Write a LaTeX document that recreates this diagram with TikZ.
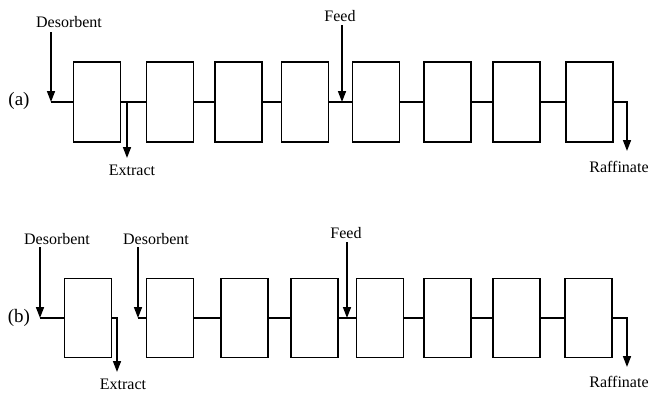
\documentclass[tikz,border=0pt]{standalone}
\usepackage{fontspec}
\setmainfont{Liberation Serif}
\usetikzlibrary{arrows.meta}
\begin{document}
\begin{tikzpicture}[x=1pt,y=-1pt,
  column/.style={draw,line width=1.5pt,minimum width=47pt,minimum height=80pt,inner sep=0pt},
  pipe/.style={line width=1.6pt},
  flow/.style={line width=1.6pt,-{Triangle[width=8pt,length=11pt]}},
  lbl/.style={inner sep=0pt,font=\fontsize{16}{18}\selectfont},
  tag/.style={inner sep=0pt,font=\fontsize{19}{22}\selectfont}]
\useasboundingbox (0,0) rectangle (651,392);

% ---------------- (a) eight columns in series ----------------
\foreach \i/\x in {1/97,2/170,3/238.5,4/305,5/376,6/447.5,7/516.5,8/589.5}
  \node[column] (a\i) at (\x,102) {};
\foreach \i/\j in {1/2,2/3,3/4,4/5,5/6,6/7,7/8}
  \draw[pipe] (a\i.east) -- (a\j.west);

\node[tag] (tagA) at (19,101) {(a)};

\node[lbl] (desA) at (69,22) {Desorbent};
\coordinate (desAin) at (51,32);
\coordinate (desAj) at (51,102);
\draw[flow] (desAin) -- (desAj);
\draw[pipe] (desAj) -- (a1.west);

\node[lbl] (extA) at (132,170) {Extract};
\coordinate (extAj) at (127,102);
\coordinate (extAout) at (127,158);
\draw[flow] (extAj) -- (extAout);

\node[lbl] (feedA) at (340,16) {Feed};
\coordinate (feedAin) at (342,25);
\coordinate (feedAj) at (342,102);
\draw[flow] (feedAin) -- (feedAj);

\node[lbl] (rafA) at (619,167) {Raffinate};
\coordinate (rafAj) at (627,102);
\coordinate (rafAout) at (627,151);
\draw[flow] (a8.east) -- (rafAj) -- (rafAout);

% ---------------- (b) first column isolated ----------------
\foreach \i/\x in {1/88,2/170,3/244.5,4/314.5,5/380,6/447.5,7/516.5,8/588.5}
  \node[column,minimum height=79pt] (b\i) at (\x,318) {};
\foreach \i/\j in {2/3,3/4,4/5,5/6,6/7,7/8}
  \draw[pipe] (b\i.east) -- (b\j.west);

\node[tag] (tagB) at (19,318) {(b)};

\node[lbl] (desB1) at (57,239) {Desorbent};
\coordinate (desB1in) at (40,247);
\coordinate (desB1j) at (40,318);
\draw[flow] (desB1in) -- (desB1j);
\draw[pipe] (desB1j) -- (b1.west);

\node[lbl] (extB) at (123,384) {Extract};
\coordinate (extBj) at (117,318);
\coordinate (extBout) at (117,372);
\draw[flow] (b1.east) -- (extBj) -- (extBout);

\node[lbl] (desB2) at (156,239) {Desorbent};
\coordinate (desB2in) at (138,247);
\coordinate (desB2j) at (138,318);
\draw[flow] (desB2in) -- (desB2j);
\draw[pipe] (desB2j) -- (b2.west);

\node[lbl] (feedB) at (346,233) {Feed};
\coordinate (feedBin) at (347,242);
\coordinate (feedBj) at (347,318);
\draw[flow] (feedBin) -- (feedBj);

\node[lbl] (rafB) at (619,382) {Raffinate};
\coordinate (rafBj) at (627,318);
\coordinate (rafBout) at (627,367);
\draw[flow] (b8.east) -- (rafBj) -- (rafBout);
\end{tikzpicture}
\end{document}
